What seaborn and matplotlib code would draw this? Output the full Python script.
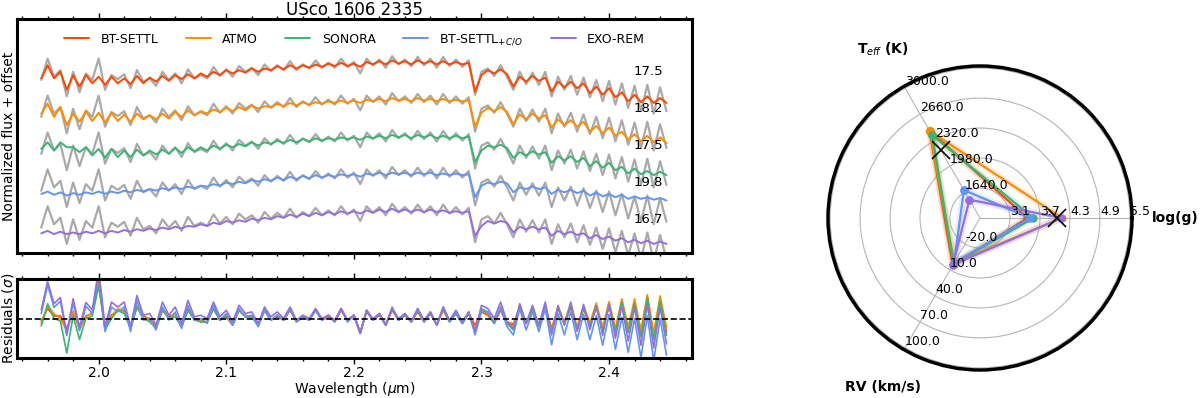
import numpy as np
import matplotlib
matplotlib.use('Agg')
import matplotlib.pyplot as plt
from matplotlib.ticker import MultipleLocator
import seaborn as sns

# ---------------------------------------------------------------- data
# wavelength grid (micron), 0.005 um sampling
wave = np.round(np.arange(1.955, 2.4451, 0.005), 3)

# observed spectrum (normalized flux)
obs = [0.78, 1.04, 0.82, 0.90, 0.58, 0.88, 0.63, 0.86, 0.78, 1.04,
       0.66, 0.84, 0.79, 0.85, 0.68, 0.90, 0.76, 0.80, 0.71, 0.88,
       0.78, 0.86, 0.74, 0.91, 0.80, 0.84, 0.80, 0.94, 0.83, 0.91,
       0.82, 0.95, 0.88, 0.93, 0.84, 0.97, 0.89, 0.96, 0.90, 1.01,
       0.90, 0.97, 0.92, 1.02, 0.93, 0.99, 0.93, 1.04, 0.94, 1.00,
       0.86, 1.04, 0.96, 1.03, 0.93, 1.07, 0.97, 1.03, 0.95, 1.06,
       0.96, 1.04, 0.93, 1.06, 0.95, 1.03, 0.94, 1.02, 0.60, 0.88,
       0.92, 0.83, 0.96, 0.82, 0.66, 0.88, 0.73, 0.87, 0.72, 0.88,
       0.58, 0.82, 0.66, 0.83, 0.60, 0.81, 0.57, 0.78, 0.52, 0.77,
       0.48, 0.74, 0.44, 0.71, 0.40, 0.72, 0.37, 0.69, 0.40]

# flux uncertainty
sigma = [0.08] * 9 + [0.06] * 75 + [0.07] * 15

# best-fit models
bt_settl = [0.80, 0.96, 0.80, 0.88, 0.66, 0.84, 0.70, 0.84, 0.74, 0.82,
            0.72, 0.82, 0.74, 0.80, 0.73, 0.83, 0.74, 0.81, 0.76, 0.83,
            0.77, 0.84, 0.79, 0.85, 0.80, 0.86, 0.82, 0.88, 0.84, 0.90,
            0.86, 0.90, 0.87, 0.92, 0.88, 0.92, 0.90, 0.95, 0.91, 0.96,
            0.92, 0.96, 0.93, 0.97, 0.94, 0.98, 0.95, 0.99, 0.95, 0.98,
            0.94, 1.00, 0.97, 1.01, 0.97, 1.02, 0.98, 1.01, 0.97, 1.02,
            0.98, 1.01, 0.97, 1.01, 0.97, 1.00, 0.97, 0.99, 0.64, 0.84,
            0.90, 0.86, 0.91, 0.85, 0.70, 0.82, 0.76, 0.83, 0.77, 0.81,
            0.64, 0.76, 0.69, 0.76, 0.68, 0.74, 0.62, 0.70, 0.60, 0.68,
            0.57, 0.63, 0.52, 0.60, 0.51, 0.58, 0.50, 0.56, 0.50]
atmo = [0.82, 0.94, 0.78, 0.90, 0.68, 0.82, 0.72, 0.85, 0.73, 0.83,
        0.71, 0.83, 0.73, 0.81, 0.72, 0.82, 0.75, 0.80, 0.75, 0.82,
        0.76, 0.84, 0.78, 0.86, 0.80, 0.85, 0.82, 0.87, 0.84, 0.89,
        0.85, 0.90, 0.86, 0.92, 0.88, 0.91, 0.90, 0.94, 0.91, 0.95,
        0.92, 0.96, 0.93, 0.96, 0.94, 0.97, 0.95, 0.98, 0.95, 0.98,
        0.95, 0.99, 0.97, 1.00, 0.97, 1.01, 0.98, 1.00, 0.97, 1.01,
        0.98, 1.00, 0.97, 1.00, 0.97, 0.99, 0.97, 0.98, 0.66, 0.83,
        0.89, 0.85, 0.90, 0.84, 0.69, 0.81, 0.75, 0.82, 0.76, 0.80,
        0.65, 0.75, 0.68, 0.74, 0.66, 0.72, 0.60, 0.67, 0.58, 0.65,
        0.55, 0.60, 0.50, 0.57, 0.48, 0.55, 0.47, 0.53, 0.46]
sonora = [0.84, 0.92, 0.82, 0.92, 0.86, 0.86, 0.80, 0.86, 0.76, 0.84,
          0.73, 0.84, 0.74, 0.82, 0.74, 0.83, 0.76, 0.82, 0.77, 0.83,
          0.78, 0.85, 0.79, 0.86, 0.81, 0.86, 0.82, 0.88, 0.84, 0.89,
          0.86, 0.90, 0.87, 0.92, 0.88, 0.92, 0.90, 0.94, 0.91, 0.95,
          0.92, 0.96, 0.93, 0.97, 0.94, 0.97, 0.95, 0.98, 0.96, 0.98,
          0.95, 0.99, 0.97, 1.00, 0.97, 1.01, 0.98, 1.01, 0.97, 1.01,
          0.98, 1.01, 0.97, 1.00, 0.97, 1.00, 0.97, 0.99, 0.68, 0.82,
          0.88, 0.86, 0.89, 0.85, 0.73, 0.80, 0.76, 0.81, 0.77, 0.80,
          0.67, 0.75, 0.70, 0.75, 0.68, 0.73, 0.63, 0.69, 0.61, 0.67,
          0.58, 0.62, 0.54, 0.60, 0.53, 0.57, 0.52, 0.56, 0.52]
bt_settl_co = [0.74, 0.77, 0.73, 0.76, 0.72, 0.75, 0.73, 0.76, 0.74, 0.77,
               0.74, 0.77, 0.75, 0.78, 0.76, 0.79, 0.77, 0.80, 0.78, 0.81,
               0.79, 0.82, 0.80, 0.83, 0.81, 0.84, 0.83, 0.86, 0.84, 0.88,
               0.86, 0.89, 0.87, 0.91, 0.89, 0.92, 0.90, 0.94, 0.91, 0.95,
               0.92, 0.96, 0.93, 0.97, 0.94, 0.97, 0.95, 0.98, 0.96, 0.98,
               0.95, 0.99, 0.97, 1.00, 0.97, 1.00, 0.98, 1.00, 0.97, 1.00,
               0.98, 1.00, 0.97, 0.99, 0.97, 0.99, 0.97, 0.98, 0.70, 0.84,
               0.88, 0.86, 0.89, 0.87, 0.76, 0.82, 0.80, 0.83, 0.80, 0.82,
               0.74, 0.79, 0.76, 0.79, 0.75, 0.78, 0.72, 0.76, 0.71, 0.74,
               0.70, 0.73, 0.68, 0.71, 0.68, 0.70, 0.67, 0.69, 0.66]
exo_rem = [0.71, 0.74, 0.70, 0.73, 0.70, 0.72, 0.70, 0.73, 0.71, 0.74,
           0.71, 0.74, 0.72, 0.75, 0.73, 0.76, 0.74, 0.77, 0.75, 0.78,
           0.76, 0.79, 0.77, 0.80, 0.79, 0.82, 0.80, 0.84, 0.82, 0.86,
           0.84, 0.87, 0.85, 0.89, 0.87, 0.90, 0.88, 0.92, 0.90, 0.94,
           0.91, 0.95, 0.92, 0.96, 0.93, 0.97, 0.94, 0.98, 0.95, 0.98,
           0.95, 0.99, 0.96, 1.00, 0.97, 1.01, 0.97, 1.00, 0.97, 1.00,
           0.97, 1.00, 0.97, 0.99, 0.96, 0.98, 0.96, 0.98, 0.68, 0.80,
           0.86, 0.83, 0.86, 0.84, 0.72, 0.79, 0.76, 0.79, 0.76, 0.78,
           0.68, 0.74, 0.70, 0.73, 0.69, 0.71, 0.65, 0.69, 0.64, 0.67,
           0.62, 0.65, 0.60, 0.63, 0.59, 0.62, 0.58, 0.61, 0.58]

model_names = ['BT-SETTL', 'ATMO', 'SONORA', r'BT-SETTL$_{+C/O}$', 'EXO-REM']
model_flux = [bt_settl, atmo, sonora, bt_settl_co, exo_rem]
chi2 = [17.5, 18.2, 17.5, 19.8, 16.7]
offsets = [1.8, 1.35, 0.9, 0.45, 0.0]
colors = ['#FF4500', '#FF8C00', '#3CB371', '#6495ED', '#9370DB']

# best-fit parameters (radar plot)
teff_fit = [2445, 2440, 2385, 1665, 1540]
logg_fit = [3.45, 4.14, 3.57, 3.50, 4.13]
rv_fit = [4.6, 1.7, 2.7, 2.0, 4.0]
teff_lit, logg_lit = 2190, 4.05
teff_ticks = [1640, 1980, 2320, 2660, 3000]
logg_ticks = [3.1, 3.7, 4.3, 4.9, 5.5]
rv_ticks = [-20, 10, 40, 70, 100]

# ---------------------------------------------------------------- style
sns.set_style('ticks')
plt.rcParams['font.family'] = ['DejaVu Sans']
plt.rcParams['mathtext.fontset'] = 'dejavusans'
plt.rcParams.update({'text.color': 'black', 'axes.labelcolor': 'black',
                     'xtick.color': 'black', 'ytick.color': 'black',
                     'axes.edgecolor': 'black'})

fig = plt.figure(figsize=(12, 3.98), dpi=100)
ax1 = fig.add_axes([17/1200, 1 - 253/398, 675/1200, 234/398])
ax2 = fig.add_axes([17/1200, 1 - 358/398, 675/1200, 79/398])
ax3 = fig.add_axes([828/1200, 1 - 370/398, 304/1200, 304/398], projection='polar')

# ---------------------------------------------------------------- spectra
obs_arr = np.array(obs)
for name, flux, off, col, c2 in zip(model_names, model_flux, offsets, colors, chi2):
    sns.lineplot(x=wave, y=obs_arr + off, ax=ax1, color='#A9A9A9', lw=1.6,
                 estimator=None, sort=False)
    sns.lineplot(x=wave, y=np.array(flux) + off, ax=ax1, color=col, lw=1.4,
                 estimator=None, sort=False, label=name)
    ax1.text(2.431, off + 0.88, f'{c2}', ha='center', va='center', fontsize=9.5)

ax1.set_xlim(1.936, 2.465)
ax1.set_ylim(0.47, 3.324)
ax1.set_yticks([])
ax1.set_ylabel('Normalized flux + offset', fontsize=10, labelpad=1)
ax1.set_title('USco 1606 2335', fontsize=12, pad=3)
ax1.legend(loc='upper center', ncol=5, frameon=False, fontsize=9,
           handlelength=2.0, handletextpad=0.9, columnspacing=2.2,
           borderaxespad=0.7)

# ---------------------------------------------------------------- residuals
sig = np.array(sigma)
for flux, col in zip(model_flux, colors):
    resid = (obs_arr - np.array(flux)) / sig
    sns.lineplot(x=wave, y=resid, ax=ax2, color=col, lw=1.2,
                 estimator=None, sort=False)
ax2.axhline(0, color='black', ls='--', lw=1.2)
ax2.set_xlim(1.936, 2.465)
ax2.set_ylim(-4, 4)
ax2.set_yticks([])
ax2.set_ylabel(r'Residuals ($\sigma$)', fontsize=10, labelpad=1)
ax2.set_xlabel(r'Wavelength ($\mu$m)', fontsize=10, labelpad=0)

for ax in (ax1, ax2):
    ax.xaxis.set_major_locator(MultipleLocator(0.1))
    ax.xaxis.set_minor_locator(MultipleLocator(0.02))
    ax.tick_params(axis='x', which='both', direction='out', top=True,
                   bottom=True, labelsize=10, width=1, pad=2)
    ax.tick_params(axis='x', which='major', length=4)
    ax.tick_params(axis='x', which='minor', length=2.5)
    for s in ax.spines.values():
        s.set_linewidth(2.2)
        s.set_visible(True)
        s.set_color('black')
ax1.tick_params(axis='x', labelbottom=False)

# ---------------------------------------------------------------- radar
angles = np.deg2rad([120, 0, 240, 120])


def to_r(t, g, v):
    return [(t - 1300) / 340, (g - 2.5) / 0.6, (v + 50) / 30,
            (t - 1300) / 340]


for t, g, v, col in zip(teff_fit, logg_fit, rv_fit, colors):
    r = to_r(t, g, v)
    ax3.plot(angles, r, color=col, lw=5, alpha=0.15)
    sns.lineplot(x=angles, y=r, ax=ax3, color=col, lw=1.6, marker='o',
                 markersize=6, markeredgewidth=0, estimator=None, sort=False)

lit_r = to_r(teff_lit, logg_lit, 0)
ax3.plot(angles[:2], lit_r[:2], 'x', color='black', markersize=13, mew=1.2,
         zorder=10)

ax3.set_ylim(0, 5.07)
ax3.set_rgrids([1, 2, 3, 4, 5], labels=[''] * 5)
ax3.set_thetagrids([0, 120, 240], labels=['', '', ''])
ax3.grid(True, color='#b5b5b5', lw=0.8)
ax3.spines['polar'].set_linewidth(2.5)
ax3.spines['polar'].set_color('black')

for ang, ticks in zip([120, 0, 240], [teff_ticks, logg_ticks, rv_ticks]):
    for k, tv in enumerate(ticks):
        ax3.text(np.deg2rad(ang), k + 1, f'{tv:.1f}', ha='left', va='bottom',
                 fontsize=9)

for ang, lab in zip([120, 0, 240], [r'T$_{eff}$ (K)', 'log(g)', 'RV (km/s)']):
    ax3.text(np.deg2rad(ang), 6.5, lab, ha='center', va='center',
             fontsize=10, fontweight='bold', clip_on=False)

fig.savefig('out.png', dpi=100)
